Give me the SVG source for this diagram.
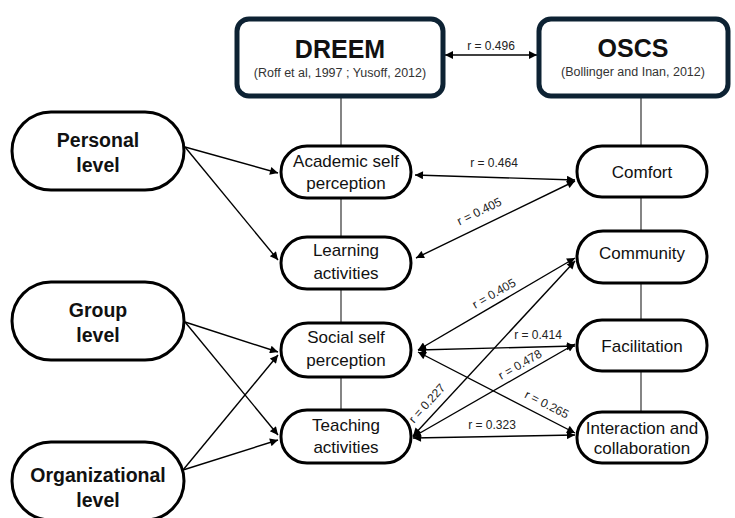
<svg xmlns="http://www.w3.org/2000/svg" width="735" height="518" viewBox="0 0 735 518">
<defs>
<marker id="ah" viewBox="0 0 10 10" refX="10" refY="5" markerWidth="10" markerHeight="8" markerUnits="userSpaceOnUse" orient="auto-start-reverse">
<path d="M0,0 L10,5 L0,10 z" fill="#000"/>
</marker>
<style>
.hdr{fill:#fff;stroke:#0d2233;stroke-width:5}
.pill{fill:#fff;stroke:#000;stroke-width:3}
.t{font-family:"Liberation Sans","Open Sans",sans-serif;fill:#111;text-anchor:middle}
.big{font-size:25px;font-weight:bold}
.sub{font-size:12.5px;fill:#333}
.lvl{font-size:19.5px;font-weight:bold}
.nd{font-size:17px}
.lab{font-family:"Liberation Sans","Open Sans",sans-serif;font-size:12px;fill:#222;text-anchor:middle}
.c{stroke:#000;stroke-width:1.4;fill:none}
.v{stroke:#333;stroke-width:1.2}
.one{marker-end:url(#ah)}
.two{marker-start:url(#ah);marker-end:url(#ah)}
</style>
</defs>
<rect width="735" height="518" fill="#fff"/>
<g id="spines">
<line class="v" x1="341" y1="96" x2="341" y2="412"/>
<line class="v" x1="641" y1="96" x2="641" y2="414"/>
</g>
<g id="connectors">
<line class="c two" x1="445" y1="55" x2="537" y2="55"/>
<line class="c one" x1="185" y1="147" x2="278" y2="173"/>
<line class="c one" x1="185" y1="147" x2="278" y2="260"/>
<line class="c one" x1="185" y1="322" x2="278" y2="352"/>
<line class="c one" x1="185" y1="322" x2="278" y2="435"/>
<line class="c one" x1="183" y1="470" x2="278" y2="355"/>
<line class="c one" x1="183" y1="470" x2="278" y2="440"/>
<line class="c two" x1="415" y1="175" x2="575" y2="180"/>
<line class="c two" x1="416" y1="258" x2="575" y2="181"/>
<line class="c two" x1="418" y1="350" x2="575" y2="258"/>
<line class="c two" x1="413" y1="436" x2="575" y2="261"/>
<line class="c two" x1="418" y1="350" x2="575" y2="346"/>
<line class="c two" x1="413" y1="437" x2="575" y2="344"/>
<line class="c two" x1="418" y1="352" x2="575" y2="433"/>
<line class="c two" x1="413" y1="438" x2="575" y2="435"/>
</g>
<g id="labels">
<text class="lab" x="491" y="50">r = 0.496</text>
<text class="lab" x="494" y="167">r = 0.464</text>
<text class="lab" transform="translate(481,215) rotate(-26)">r = 0.405</text>
<text class="lab" transform="translate(496,297) rotate(-30)">r = 0.405</text>
<text class="lab" transform="translate(430,406) rotate(-48)">r = 0.227</text>
<text class="lab" x="538" y="339">r = 0.414</text>
<text class="lab" transform="translate(522,368) rotate(-30)">r = 0.478</text>
<text class="lab" transform="translate(545,408) rotate(27)">r = 0.265</text>
<text class="lab" x="492" y="429">r = 0.323</text>
</g>
<g id="dreem">
<rect class="hdr" x="237" y="19" width="206" height="77" rx="12"/>
<text class="t big" x="340" y="58">DREEM</text>
<text class="t sub" x="340" y="77">(Roff et al, 1997 ; Yusoff, 2012)</text>
</g>
<g id="oscs">
<rect class="hdr" x="539" y="19" width="189" height="77" rx="12"/>
<text class="t big" x="633" y="57">OSCS</text>
<text class="t sub" x="633" y="76">(Bollinger and Inan, 2012)</text>
</g>
<g id="personal">
<rect class="pill" x="12" y="112" width="172" height="78" rx="39"/>
<text class="t lvl" x="98" y="147">Personal</text>
<text class="t lvl" x="98" y="172">level</text>
</g>
<g id="group">
<rect class="pill" x="12" y="282" width="172" height="78" rx="39"/>
<text class="t lvl" x="98" y="317">Group</text>
<text class="t lvl" x="98" y="342">level</text>
</g>
<g id="organizational">
<rect class="pill" x="12" y="442" width="172" height="78" rx="39"/>
<text class="t lvl" x="98" y="482">Organizational</text>
<text class="t lvl" x="98" y="507">level</text>
</g>
<g id="academic">
<rect class="pill" x="281" y="146" width="130" height="52" rx="26"/>
<text class="t nd" x="346" y="167">Academic self</text>
<text class="t nd" x="346" y="189">perception</text>
</g>
<g id="learning">
<rect class="pill" x="281" y="237" width="130" height="52" rx="26"/>
<text class="t nd" x="346" y="256">Learning</text>
<text class="t nd" x="346" y="279">activities</text>
</g>
<g id="social">
<rect class="pill" x="281" y="323" width="130" height="54" rx="27"/>
<text class="t nd" x="346" y="343">Social self</text>
<text class="t nd" x="346" y="366">perception</text>
</g>
<g id="teaching">
<rect class="pill" x="281" y="410" width="130" height="53" rx="26"/>
<text class="t nd" x="346" y="431">Teaching</text>
<text class="t nd" x="346" y="453">activities</text>
</g>
<g id="comfort">
<rect class="pill" x="577" y="146" width="130" height="51" rx="25"/>
<text class="t nd" x="642" y="178">Comfort</text>
</g>
<g id="community">
<rect class="pill" x="577" y="231" width="130" height="52" rx="26"/>
<text class="t nd" x="642" y="259">Community</text>
</g>
<g id="facilitation">
<rect class="pill" x="577" y="320" width="130" height="51" rx="25"/>
<text class="t nd" x="642" y="352">Facilitation</text>
</g>
<g id="interaction">
<rect class="pill" x="577" y="412" width="130" height="51" rx="25"/>
<text class="t nd" x="642" y="434">Interaction and</text>
<text class="t nd" x="642" y="454">collaboration</text>
</g>
</svg>
